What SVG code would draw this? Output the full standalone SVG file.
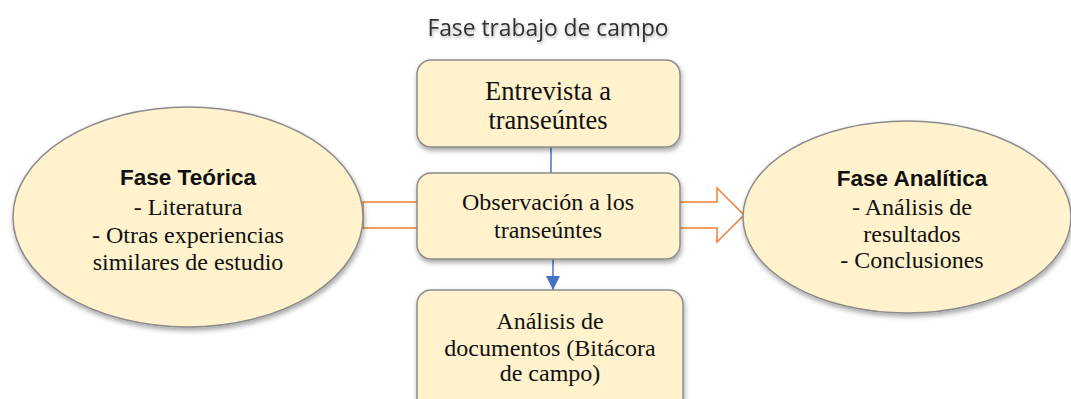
<svg xmlns="http://www.w3.org/2000/svg" width="1071" height="399" viewBox="0 0 1071 399">
<style>
.box{fill:#FFF2CC;stroke:#8C8C8C;stroke-width:1.5;filter:url(#sh)}
.ell{fill:#FFF2CC;stroke:#8C8C8C;stroke-width:1.5;filter:url(#sh)}
.t{font-family:"Liberation Serif","Times New Roman",serif;font-size:24px;fill:#111;text-anchor:middle}
.tl{font-size:26.5px}
.b{font-family:"Liberation Sans",Arial,sans-serif;font-size:22.5px;font-weight:bold;fill:#111;text-anchor:middle}
.title{font-family:"Open Sans","Noto Sans",sans-serif;font-size:22.8px;fill:#333;text-anchor:middle;filter:url(#tsh)}
.or{fill:#fff;stroke:#ED7D31;stroke-width:1.5}
.bl{stroke:#4472C4;stroke-width:1.5;fill:none}
</style>
<defs>
<filter id="sh" x="-20%" y="-20%" width="140%" height="150%">
<feDropShadow dx="1" dy="3" stdDeviation="2.5" flood-color="#000" flood-opacity="0.35"/>
</filter>
<filter id="tsh" x="-10%" y="-30%" width="120%" height="160%">
<feDropShadow dx="1" dy="2" stdDeviation="1.5" flood-color="#000" flood-opacity="0.3"/>
</filter>
<marker id="ah" viewBox="0 0 10 10" refX="10" refY="5" markerWidth="14" markerHeight="14" markerUnits="userSpaceOnUse" orient="auto">
<path d="M0,0 L10,5 L0,10 z" fill="#4472C4"/>
</marker>
</defs>
<rect width="1071" height="399" fill="#fff"/>
<text class="title" x="548" y="36">Fase trabajo de campo</text>
<g id="connectors">
<rect class="or" x="363" y="202" width="60" height="26"/>
<polygon class="or" points="675,202 717,202 717,188 744,215 717,242 717,228 675,228"/>
<line class="bl" x1="551" y1="147" x2="551" y2="173"/>
<line class="bl" x1="553" y1="259" x2="553" y2="290" marker-end="url(#ah)"/>
</g>
<g id="fase-teorica">
<ellipse class="ell" cx="188" cy="217" rx="175" ry="110"/>
<text class="b" x="188" y="185">Fase Teórica</text>
<text class="t" x="188" y="215">- Literatura</text>
<text class="t" x="188" y="243">- Otras experiencias</text>
<text class="t" x="188" y="270">similares de estudio</text>
</g>
<g id="fase-analitica">
<ellipse class="ell" cx="907" cy="217" rx="164" ry="96"/>
<text class="b" x="912" y="186">Fase Analítica</text>
<text class="t" x="912" y="215">- Análisis de</text>
<text class="t" x="912" y="242">resultados</text>
<text class="t" x="912" y="268">- Conclusiones</text>
</g>
<g id="entrevista">
<rect class="box" x="417" y="60" width="263" height="87" rx="14"/>
<text class="t tl" x="548" y="100">Entrevista a</text>
<text class="t tl" x="548" y="129">transeúntes</text>
</g>
<g id="observacion">
<rect class="box" x="417" y="173" width="263" height="86" rx="14"/>
<text class="t" x="548" y="210">Observación a los</text>
<text class="t" x="548" y="238">transeúntes</text>
</g>
<g id="analisis-documentos">
<rect class="box" x="417" y="290" width="266" height="125" rx="14"/>
<text class="t" x="550" y="329">Análisis de</text>
<text class="t" x="550" y="356">documentos (Bitácora</text>
<text class="t" x="550" y="381">de campo)</text>
</g>
</svg>
